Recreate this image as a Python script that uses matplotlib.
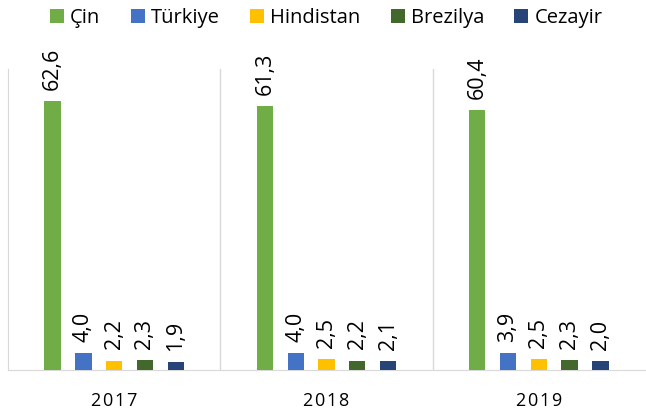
import numpy as np
import matplotlib.pyplot as plt

years = ["2017", "2018", "2019"]
countries = ["Çin", "Türkiye", "Hindistan", "Brezilya", "Cezayir"]
cin = [62.6, 61.3, 60.4]
turkiye = [4.0, 4.0, 3.9]
hindistan = [2.2, 2.5, 2.5]
brezilya = [2.3, 2.2, 2.3]
cezayir = [1.9, 2.1, 2.0]
colors = ["#70AD47", "#4472C4", "#FFC000", "#43682B", "#264478"]

series = [cin, turkiye, hindistan, brezilya, cezayir]

plt.rcParams['font.family'] = ['Open Sans', 'DejaVu Sans']

fig = plt.figure(figsize=(6.46, 4.12), dpi=100)
ax = fig.add_axes([0.0124, 0.102, 0.986, 0.7305])

x = np.arange(len(years))
step = 0.145
width = 0.077
for i, (name, vals, col) in enumerate(zip(countries, series, colors)):
    pos = x + (i - 2) * step
    ax.bar(pos, vals, width, color=col, label=name, zorder=3)
    for p, v in zip(pos, vals):
        ax.annotate(f"{v:.1f}".replace('.', ','), (p, v), xytext=(0, 8),
                    textcoords="offset points", rotation=90, ha="center",
                    va="bottom", fontsize=15.5, color="#000000",
                    annotation_clip=False)

ax.set_xlim(-0.5, 2.5)
ax.set_ylim(0, 70)
ax.set_yticks([])
ax.set_xticks(x)
# letter-spaced year labels like the original
ax.set_xticklabels(["\u200a".join(y) for y in years], fontsize=13)
ax.tick_params(axis='x', length=0, pad=16)

for b in [0.5, 1.5]:
    ax.axvline(b, color="#D9D9D9", lw=1, zorder=1)
for s in ["top", "right"]:
    ax.spines[s].set_visible(False)
for s in ["left", "bottom"]:
    ax.spines[s].set_color("#D9D9D9")

fig.legend(loc="center", bbox_to_anchor=(0.505, 0.957), ncol=5,
           frameon=False, fontsize=14.5, handlelength=0.7, handleheight=0.7,
           handletextpad=0.3, columnspacing=1.5)

fig.savefig("out.png", dpi=100)
